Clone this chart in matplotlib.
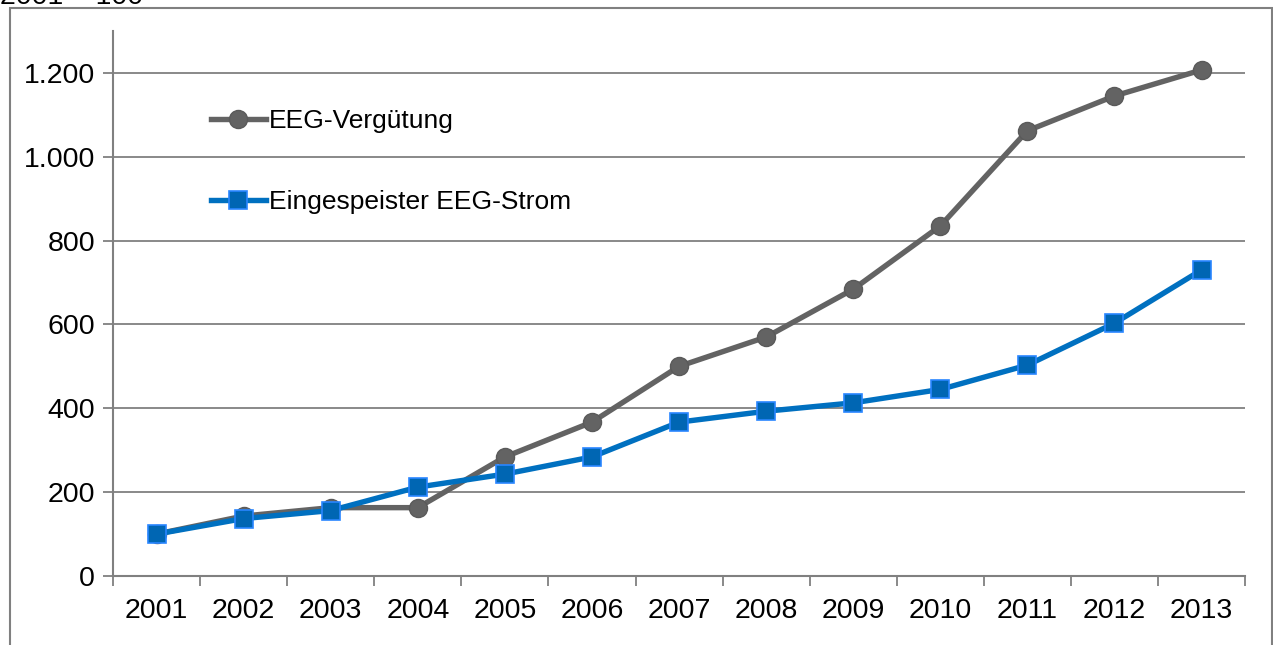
"""
EEG-Vergütung vs. eingespeister EEG-Strom, index 2001 = 100.
"""

import matplotlib
matplotlib.use("Agg")
import matplotlib.pyplot as plt
from matplotlib.patches import Rectangle
from matplotlib.ticker import FuncFormatter

years = ["2001", "2002", "2003", "2004", "2005", "2006", "2007",
         "2008", "2009", "2010", "2011", "2012", "2013"]
verguetung = [100, 143, 163, 163, 284, 367, 500, 570, 684, 835, 1062, 1145, 1207]
strom = [100, 137, 156, 212, 243, 284, 367, 393, 413, 445, 503, 603, 730]
y_ticks = [0, 200, 400, 600, 800, 1000, 1200]

plt.rcParams["font.family"] = ["Liberation Sans", "DejaVu Sans"]

fig = plt.figure(figsize=(12.73, 6.45), dpi=100)
ax = fig.add_axes([0.0888, 0.107, 0.8893, 0.845])

x = list(range(len(years)))
ax.plot(x, verguetung, color="#636363", lw=3.9, marker="o", markersize=13,
        markerfacecolor="#636363", markeredgecolor="#5a5a5a",
        label="EEG-Vergütung", zorder=3)
ax.plot(x, strom, color="#0070c0", lw=3.9, marker="s", markersize=12.5,
        markerfacecolor="#0066b3", markeredgecolor="#2a86ff", markeredgewidth=1.2,
        label="Eingespeister EEG-Strom", zorder=4)

ax.set_xlim(-0.5, len(years) - 0.5)
ax.set_ylim(0, 1300)
ax.set_yticks(y_ticks)
ax.yaxis.set_major_formatter(FuncFormatter(lambda v, p: f"{int(v):,}".replace(",", ".")))
ax.set_xticks(x)
ax.set_xticklabels(years)
ax.set_xticks([i - 0.5 for i in range(len(years) + 1)], minor=True)
ax.tick_params(axis="x", which="major", length=0, pad=16, labelsize=20.5)
ax.tick_params(axis="x", which="minor", length=7, width=1.3, color="#808080")
ax.tick_params(axis="y", length=7, width=1.3, color="#808080", labelsize=20.5, pad=6)

ax.grid(axis="y", color="#808080", lw=1.3)
ax.set_axisbelow(True)
for side in ("top", "right"):
    ax.spines[side].set_visible(False)
for side in ("left", "bottom"):
    ax.spines[side].set_color("#808080")
    ax.spines[side].set_linewidth(1.5)

ax.legend(loc="upper left", bbox_to_anchor=(0.0745, 0.881), frameon=False,
          fontsize=19, handlelength=2.1, handletextpad=0.12, labelspacing=2.17,
          borderpad=0)

# outer chart frame, cropped at the bottom
fig.patches.append(Rectangle((10 / 1273, -0.05), 1262 / 1273, 1.05 - 8 / 645,
                             transform=fig.transFigure, fill=False,
                             edgecolor="#808080", lw=1.5))
fig.text(0.0, 1 - 4 / 645, "2001 = 100", fontsize=20.5, va="baseline", ha="left")

fig.savefig("out.png", dpi=100)
